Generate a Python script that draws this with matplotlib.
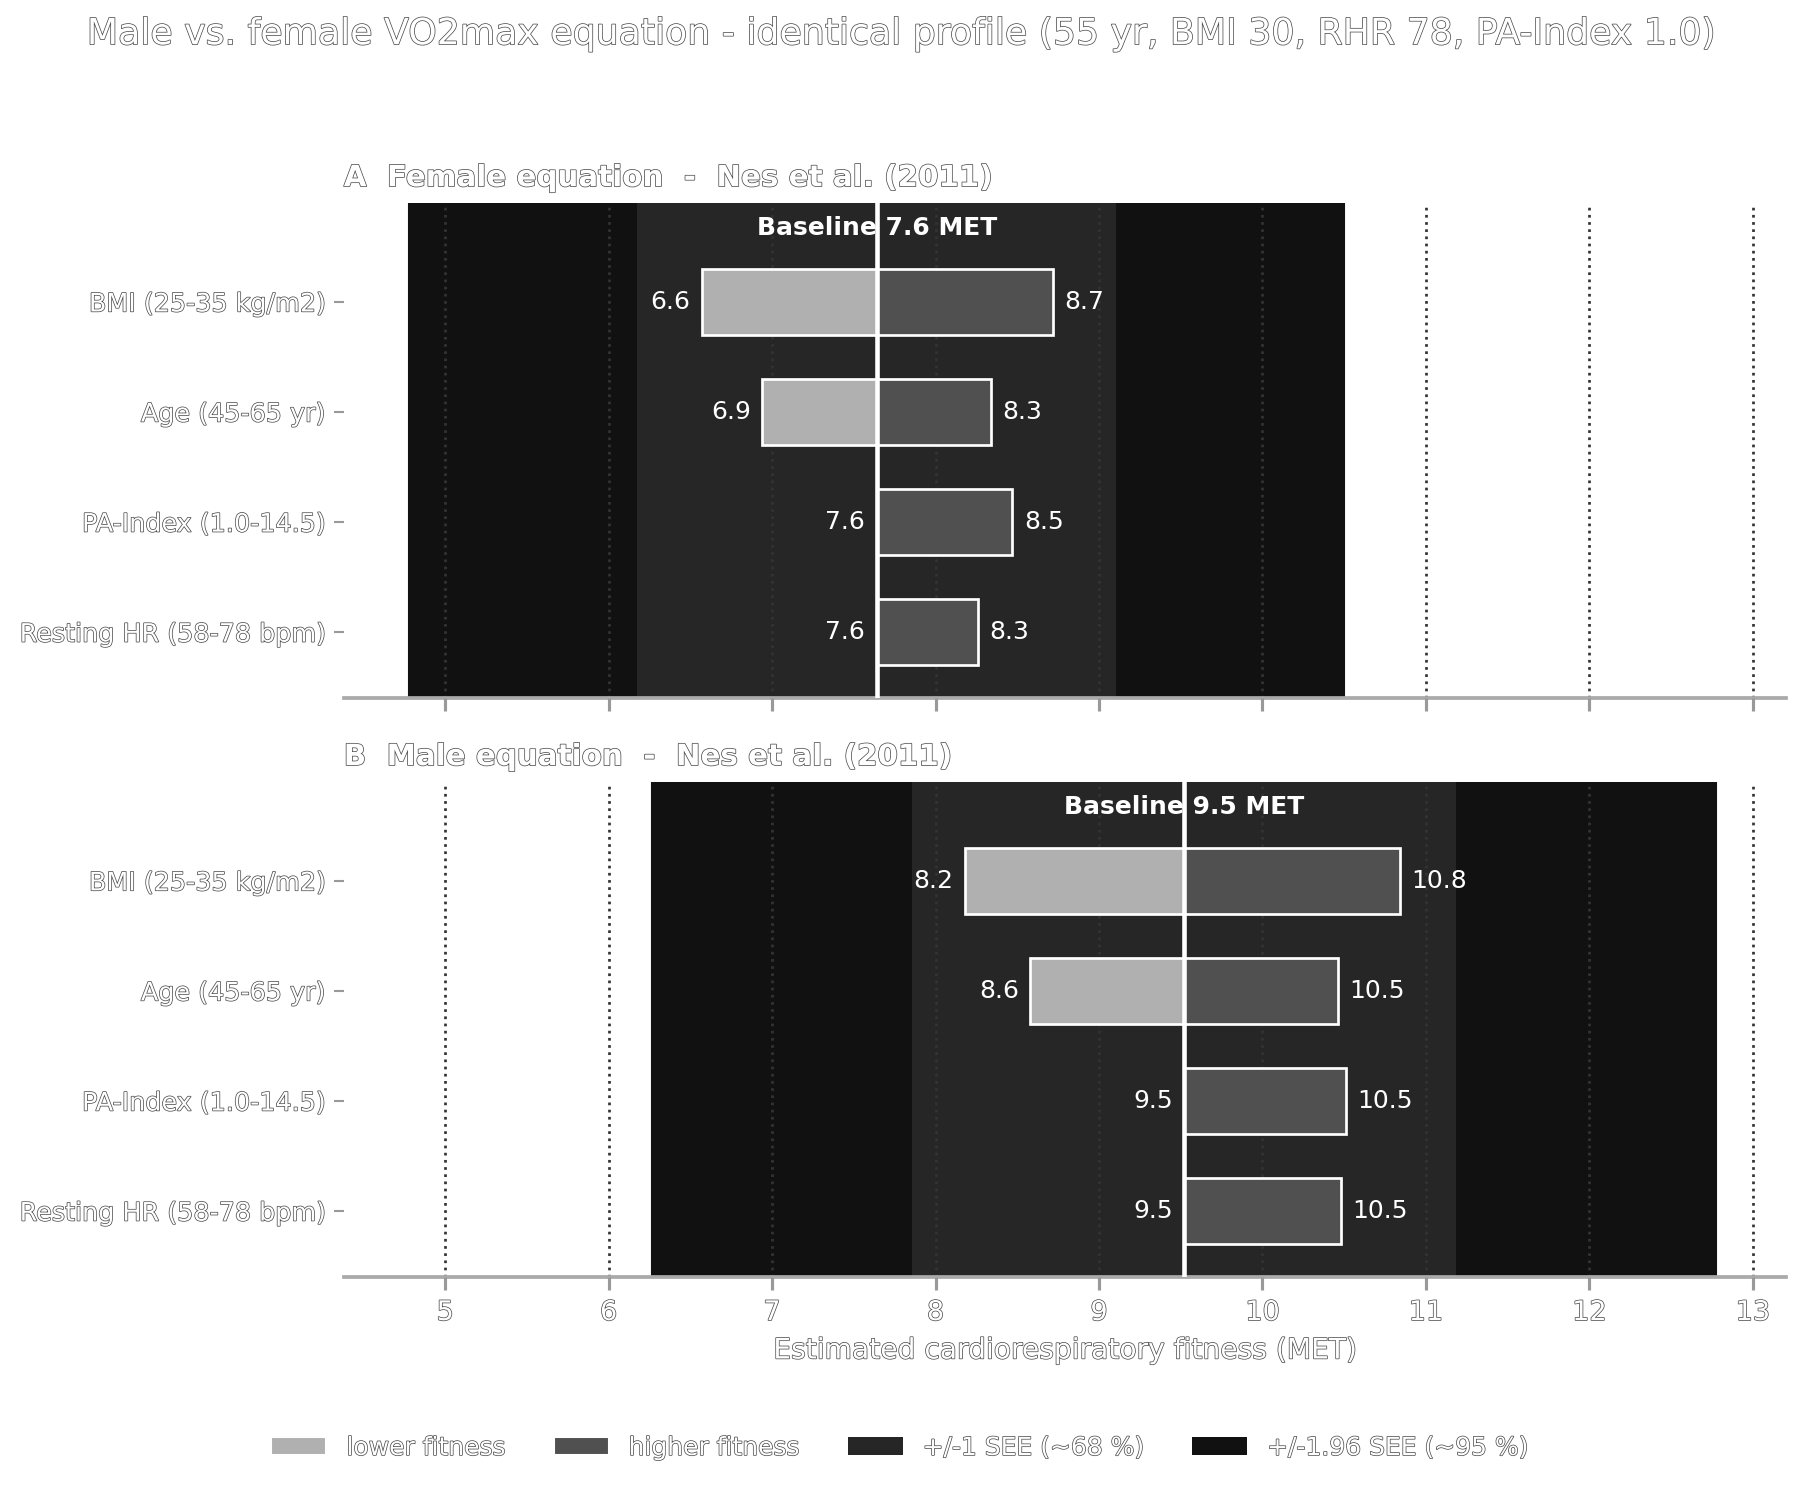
import matplotlib.pyplot as plt
import matplotlib.patheffects as pe
from matplotlib.patches import Patch

# Data
factors = ["BMI (25-35 kg/m2)", "Age (45-65 yr)", "PA-Index (1.0-14.5)", "Resting HR (58-78 bpm)"]

female_base = 7.64
female_low = [6.57, 6.94, 7.64, 7.64]
female_high = [8.72, 8.34, 8.47, 8.26]
female_see = 1.46

male_base = 9.52
male_low = [8.18, 8.58, 9.52, 9.52]
male_high = [10.84, 10.46, 10.51, 10.48]
male_see = 1.66

x_ticks = [5, 6, 7, 8, 9, 10, 11, 12, 13]

LOW_COL = "#b0b0b0"
HIGH_COL = "#505050"
SEE1_COL = "#262626"
SEE2_COL = "#111111"

# white text with a thin grey rim
rim = [pe.withStroke(linewidth=0.7, foreground="#4a4a4a")]

fig = plt.figure(figsize=(12, 9.947), dpi=150)
ax_a = fig.add_axes([0.191, 0.532, 0.801, 0.332])
ax_b = fig.add_axes([0.191, 0.144, 0.801, 0.332], sharex=ax_a)

panels = [
    (ax_a, "A  Female equation  -  Nes et al. (2011)", female_base, female_low, female_high, female_see),
    (ax_b, "B  Male equation  -  Nes et al. (2011)", male_base, male_low, male_high, male_see),
]

for ax, title, base, low, high, see in panels:
    ax.set_facecolor("none")
    # SEE bands
    ax.axvspan(base - 1.96 * see, base + 1.96 * see, color=SEE2_COL, zorder=0)
    ax.axvspan(base - see, base + see, color=SEE1_COL, zorder=0.5)
    ax.set_axisbelow(False)
    for xt in x_ticks:
        ax.axvline(xt, color="#333333", linestyle=":", linewidth=1.3, zorder=1)

    ypos = list(range(len(factors)))
    ax.barh(ypos, [l - base for l in low], left=base, height=0.6,
            color=LOW_COL, edgecolor="white", linewidth=1.3, zorder=2)
    ax.barh(ypos, [h - base for h in high], left=base, height=0.6,
            color=HIGH_COL, edgecolor="white", linewidth=1.3, zorder=2)
    ax.axvline(base, color="white", linewidth=2.2, zorder=3)

    for y, l, h in zip(ypos, low, high):
        ax.text(l - 0.07, y, f"{l:.1f}", ha="right", va="center",
                color="white", fontsize=12, zorder=4)
        ax.text(h + 0.07, y, f"{h:.1f}", ha="left", va="center",
                color="white", fontsize=12, zorder=4)

    ax.text(base, -0.67, f"Baseline {base:.1f} MET", ha="center", va="center",
            color="white", fontsize=12, fontweight="bold", zorder=4)

    ax.set_ylim(3.6, -0.9)
    ax.set_yticks(ypos)
    ax.set_yticklabels(factors, fontsize=12.2, color="white", path_effects=rim)
    ax.tick_params(axis="y", length=5, width=1, color="#999999", pad=4)
    ax.tick_params(axis="x", length=6, width=1.5, color="#999999", pad=5)

    for side in ["top", "right", "left"]:
        ax.spines[side].set_visible(False)
    ax.spines["bottom"].set_color("#aaaaaa")
    ax.spines["bottom"].set_linewidth(1.8)

    t = ax.set_title(title, loc="left", fontsize=14.1, fontweight="bold",
                     color="white", pad=8)
    t.set_path_effects(rim)

ax_a.set_xlim(4.38, 13.2)
ax_a.set_xticks(x_ticks)
ax_a.tick_params(axis="x", labelbottom=False)
for lab in ax_b.get_xticklabels():
    lab.set_color("white")
    lab.set_fontsize(13)
    lab.set_path_effects(rim)
xl = ax_b.set_xlabel("Estimated cardiorespiratory fitness (MET)", fontsize=13.5,
                     color="white", labelpad=5)
xl.set_path_effects(rim)

st = fig.suptitle("Male vs. female VO2max equation - identical profile (55 yr, BMI 30, RHR 78, PA-Index 1.0)",
                  fontsize=17.4, color="white", y=0.977, va="center")
st.set_path_effects(rim)

handles = [
    Patch(facecolor=LOW_COL, edgecolor="white", label="lower fitness"),
    Patch(facecolor=HIGH_COL, edgecolor="white", label="higher fitness"),
    Patch(facecolor=SEE1_COL, label="+/-1 SEE (~68 %)"),
    Patch(facecolor=SEE2_COL, label="+/-1.96 SEE (~95 %)"),
]
leg = fig.legend(handles=handles, loc="center", bbox_to_anchor=(0.5, 0.0295), ncol=4,
                 frameon=False, fontsize=12, columnspacing=1.9, handlelength=2.2)
for txt in leg.get_texts():
    txt.set_color("white")
    txt.set_path_effects(rim)

fig.savefig("out.png", dpi=150)
